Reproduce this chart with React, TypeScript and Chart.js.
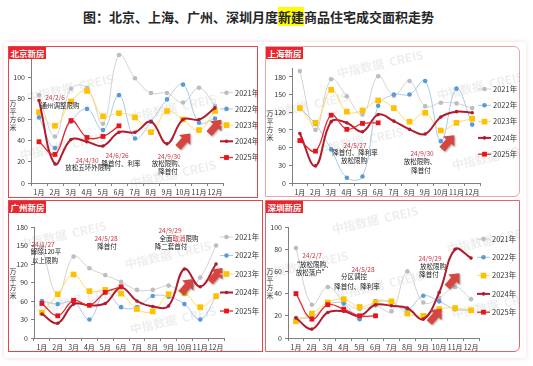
import React, { useEffect, useRef } from 'react';
import { Chart, registerables } from 'chart.js';
Chart.register(...registerables);

const FONT = '"Noto Sans CJK SC", "Noto Sans", sans-serif';
Chart.defaults.font.family = FONT;
Chart.defaults.color = '#333';

const MONTHS = ['1月', '2月', '3月', '4月', '5月', '6月', '7月', '8月', '9月', '10月', '11月', '12月'];
const YEARS = ['2021年', '2022年', '2023年', '2024年', '2025年'];

// 北京
const BJ_2021 = [83, 44, 89, 90, 56, 121, 99, 85, 85, 76, 90, 73];
const BJ_2022 = [62, 33, 58, 70, 50, 83, 42, 58, 79, 93, 57, 61];
const BJ_2023 = [67, 54, 77, 87, 63, 66, 62, 48, 68, 60, 50, 68];
const BJ_2024 = [78, 18, 41, 39, 35, 48, 48, 58, 37, 60, 60, 71];
const BJ_2025 = [39, 27, 59, 43, 44, 54];
// 上海
const SH_2021 = [190, 90, 176, 147, 116, 181, 148, 173, 130, 136, 135, 127];
const SH_2022 = [127, 100, 57, 9, 11, 131, 150, 150, 173, 71, 160, 99];
const SH_2023 = [127, 102, 158, 121, 123, 140, 127, 104, 119, 89, 102, 109];
const SH_2024 = [84, 29, 104, 102, 87, 116, 105, 91, 83, 112, 121, 119];
const SH_2025 = [72, 54, 115, 91, 101, 102];
// 广州
const GZ_2021 = [148, 70, 132, 113, 102, 91, 78, 78, 85, 75, 98, 150];
const GZ_2022 = [60, 55, 59, 30, 75, 50, 50, 68, 67, 55, 30, 67];
const GZ_2023 = [41, 71, 103, 76, 78, 72, 47, 43, 71, 73, 50, 68];
const GZ_2024 = [39, 24, 55, 53, 56, 82, 60, 51, 52, 112, 83, 120];
const GZ_2025 = [56, 36, 61, 53, 74, 83];
// 深圳
const SZ_2021 = [81, 30, 46, 33, 26, 29, 24, 60, 32, 36, 46, 35];
const SZ_2022 = [18, 19, 30, 31, 17, 33, 32, 26, 38, 33, 26, 25];
const SZ_2023 = [15, 22, 32, 35, 28, 32, 33, 22, 20, 26, 27, 25];
const SZ_2024 = [18, 8, 23, 24, 20, 30, 29, 27, 17, 41, 80, 72];
const SZ_2025 = [40, 17, 30, 26, 20, 20];

const RED_T = '#c8343f';
const BLK_T = '#222';

// annotations: [monthIndex, value, [[text,color],...]]
const BJ_NOTES: [number, number, [string, string][]][] = [
  [1.0, 81, [['24/2/6', RED_T]]],
  [1.31, 73, [['通州调整限购', BLK_T]]],
  [3.0, 21, [['24/4/30', RED_T]]],
  [3.06, 15, [['放松五环外限购', BLK_T]]],
  [4.88, 25.5, [['24/6/26', RED_T]]],
  [5.13, 18, [['降首付、利率', BLK_T]]],
  [8.13, 24.6, [['24/9/30', RED_T]]],
  [8.06, 18, [['放松限购、', BLK_T]]],
  [8.06, 10.4, [['降首付', BLK_T]]],
];
const SH_NOTES: [number, number, [string, string][]][] = [
  [3.52, 62.7, [['24/5/27', RED_T]]],
  [3.52, 50.9, [['降首付、降利率', BLK_T]]],
  [3.46, 37.3, [['放松限购', BLK_T]]],
  [7.8, 49.2, [['24/9/30', RED_T]]],
  [7.67, 35.6, [['放松限购、', BLK_T]]],
  [7.73, 20.3, [['降首付', BLK_T]]],
];
const GZ_NOTES: [number, number, [string, string][]][] = [
  [0.07, 151, [['24/1/27', RED_T]]],
  [0.26, 139.5, [['解除120平', BLK_T]]],
  [0.19, 125, [['以上限购', BLK_T]]],
  [4.05, 162, [['24/5/28', RED_T]]],
  [4.11, 149, [['降首付', BLK_T]]],
  [8.09, 175, [['24/9/29', RED_T]]],
  [8.66, 162, [['全面', BLK_T], ['取消', '#e0242c'], ['限购', BLK_T]]],
  [8.15, 149, [['降二套首付', BLK_T]]],
];
const SZ_NOTES: [number, number, [string, string][]][] = [
  [1.01, 74, [['24/2/7', RED_T]]],
  [1.07, 65.8, [['“放松限购、', BLK_T]]],
  [1.01, 58.6, [['放松落户”', BLK_T]]],
  [4.21, 61.3, [['24/5/28', RED_T]]],
  [3.65, 55, [['分区调控', BLK_T]]],
  [3.83, 46.8, [['降首付、降利率', BLK_T]]],
  [8.42, 72, [['24/9/29', RED_T]]],
  [8.61, 64, [['放松限购', BLK_T]]],
  [8.36, 56.8, [['降首付', BLK_T]]],
];

// arrows: [monthIndex, value]
const BJ_ARROWS: [number, number][] = [[9.06, 40], [11.0, 53]];
const SH_ARROWS: [number, number][] = [[9.46, 69]];
const GZ_ARROWS: [number, number][] = [[9.17, 84], [11.0, 102]];
const SZ_ARROWS: [number, number][] = [[8.75, 20], [9.88, 52]];

const STYLES = [
  { line: '#d2d2d2', point: '#bdbdbd', width: 1, style: 'circle', r: 2.3 },
  { line: '#a9c8e8', point: '#5b9bd5', width: 1, style: 'circle', r: 2.3 },
  { line: '#ffd966', point: '#ffc000', width: 1, style: 'rect', r: 4.0 },
  { line: '#b01c2e', point: '#b01c2e', width: 2, style: 'circle', r: 1.8 },
  { line: '#e8262c', point: '#e8141c', width: 1.3, style: 'rect', r: 3.4 },
];

function drawMarker(ctx: CanvasRenderingContext2D, style: string, color: string, r: number, x: number, y: number) {
  ctx.fillStyle = color;
  ctx.beginPath();
  if (style === 'rect') {
    const s = Math.SQRT1_2 * r;
    ctx.rect(x - s, y - s, 2 * s, 2 * s);
  } else {
    ctx.arc(x, y, r, 0, Math.PI * 2);
  }
  ctx.fill();
}

const legendPlugin = {
  id: 'customLegend',
  afterDraw(chart: any, _a: any, opts: any) {
    const { ctx, chartArea } = chart;
    const x0 = chartArea.right + opts.dx;
    ctx.save();
    chart.data.datasets.forEach((ds: any, k: number) => {
      const y = opts.y0 + k * opts.gap;
      ctx.strokeStyle = ds.borderColor;
      ctx.lineWidth = ds.borderWidth;
      ctx.beginPath();
      ctx.moveTo(x0, y);
      ctx.lineTo(x0 + 13, y);
      ctx.stroke();
      drawMarker(ctx, ds.pointStyle, ds.pointBackgroundColor, ds.pointRadius, x0 + 6.5, y);
      ctx.fillStyle = '#333';
      ctx.font = `7.5px ${FONT}`;
      ctx.textAlign = 'left';
      ctx.textBaseline = 'middle';
      ctx.fillText(ds.label, x0 + 15, y);
    });
    ctx.restore();
  },
};

const decorPlugin = {
  id: 'decor',
  beforeDatasetsDraw(chart: any, _a: any, opts: any) {
    const { ctx } = chart;
    ctx.save();
    ctx.fillStyle = 'rgba(0,0,0,0.07)';
    ctx.font = `bold 12px ${FONT}`;
    ctx.textAlign = 'center';
    ctx.textBaseline = 'middle';
    (opts.marks || []).forEach((m: [number, number]) => {
      ctx.save();
      ctx.translate(m[0], m[1]);
      ctx.rotate(-0.22);
      ctx.fillText('中指数据  CREIS', 0, 0);
      ctx.restore();
    });
    ctx.restore();
  },
  afterDatasetsDraw(chart: any, _a: any, opts: any) {
    const { ctx, chartArea, scales } = chart;
    ctx.save();
    // arrows
    (opts.arrows || []).forEach((a: [number, number]) => {
      const cx = scales.x.getPixelForValue(a[0]);
      const cy = scales.y.getPixelForValue(a[1]);
      ctx.save();
      ctx.translate(cx, cy);
      ctx.rotate(-0.85);
      ctx.shadowColor = 'rgba(0,0,0,0.35)';
      ctx.shadowBlur = 2;
      ctx.shadowOffsetX = 1;
      ctx.shadowOffsetY = 1;
      ctx.fillStyle = '#d6453f';
      ctx.beginPath();
      ctx.moveTo(-9, -3.5);
      ctx.lineTo(1, -3.5);
      ctx.lineTo(1, -7.5);
      ctx.lineTo(9.5, 0);
      ctx.lineTo(1, 7.5);
      ctx.lineTo(1, 3.5);
      ctx.lineTo(-9, 3.5);
      ctx.closePath();
      ctx.fill();
      ctx.restore();
    });
    // notes
    ctx.font = `6.5px ${FONT}`;
    ctx.textBaseline = 'middle';
    ctx.textAlign = 'left';
    (opts.notes || []).forEach((n: [number, number, [string, string][]]) => {
      const cx = scales.x.getPixelForValue(n[0]);
      const cy = scales.y.getPixelForValue(n[1]);
      const total = n[2].reduce((s, p) => s + ctx.measureText(p[0]).width, 0);
      let x = cx - total / 2;
      n[2].forEach((p) => {
        ctx.fillStyle = p[1];
        ctx.fillText(p[0], x, cy);
        x += ctx.measureText(p[0]).width;
      });
    });
    // y title vertical
    ctx.fillStyle = '#333';
    ctx.font = `7px ${FONT}`;
    ctx.textAlign = 'center';
    const chars = '万平方米'.split('');
    const tx = chartArea.left + opts.titleDx;
    chars.forEach((c, k) => {
      ctx.fillText(c, tx, opts.titleCy + (k - 1.5) * 8);
    });
    ctx.restore();
  },
};

type PanelCfg = {
  name: string;
  box: { x: number; y: number; w: number; h: number };
  pad: { top: number; right: number };
  yW: number;
  xH: number;
  max: number;
  step: number;
  labelMax: number;
  series: number[][];
  notes: [number, number, [string, string][]][];
  arrows: [number, number][];
  legend: { dx: number; y0: number; gap: number };
  titleDx: number;
  titleCy: number;
  border: string;
  radius?: string;
  marks: [number, number][];
};

const PANELS: PanelCfg[] = [
  {
    name: '北京新房', box: { x: 8, y: 46, w: 250, h: 152 }, pad: { top: 10, right: 35 }, yW: 23, xH: 15,
    max: 120, step: 20, labelMax: 100, series: [BJ_2021, BJ_2022, BJ_2023, BJ_2024, BJ_2025],
    notes: BJ_NOTES, arrows: BJ_ARROWS, legend: { dx: -3, y0: 46.7, gap: 16.2 }, titleDx: -18, titleCy: 69,
    border: '#e5454a', marks: [[62, 42], [165, 62], [55, 100], [165, 128]],
  },
  {
    name: '上海新房', box: { x: 265, y: 46, w: 255, h: 151 }, pad: { top: 22, right: 40 }, yW: 27, xH: 14,
    max: 195, step: 30, labelMax: 180, series: [SH_2021, SH_2022, SH_2023, SH_2024, SH_2025],
    notes: SH_NOTES, arrows: SH_ARROWS, legend: { dx: -2, y0: 43, gap: 16.3 }, titleDx: -22, titleCy: 79,
    border: '#e9a3aa', radius: '0 6px 6px 0', marks: [[115, 18], [40, 60], [95, 95], [215, 40], [230, 110]],
  },
  {
    name: '广州新房', box: { x: 8, y: 200, w: 255, h: 152 }, pad: { top: 27, right: 39 }, yW: 26, xH: 14,
    max: 180, step: 30, labelMax: 180, series: [GZ_2021, GZ_2022, GZ_2023, GZ_2024, GZ_2025],
    notes: GZ_NOTES, arrows: GZ_ARROWS, legend: { dx: -4, y0: 37, gap: 18.5 }, titleDx: -21, titleCy: 83,
    border: '#e5454a', marks: [[55, 35], [160, 55], [70, 100], [165, 120]],
  },
  {
    name: '深圳新房', box: { x: 265, y: 200, w: 255, h: 152 }, pad: { top: 27, right: 41 }, yW: 23, xH: 14,
    max: 100, step: 20, labelMax: 100, series: [SZ_2021, SZ_2022, SZ_2023, SZ_2024, SZ_2025],
    notes: SZ_NOTES, arrows: SZ_ARROWS, legend: { dx: -2, y0: 39, gap: 18.3 }, titleDx: -18, titleCy: 83,
    border: '#e2656c', radius: '0 0 6px 0', marks: [[110, 20], [40, 65], [115, 85], [225, 40], [230, 105]],
  },
];

function Panel({ cfg }: { cfg: PanelCfg }) {
  const ref = useRef<HTMLCanvasElement>(null);
  useEffect(() => {
    const datasets = cfg.series.map((data, k) => {
      const s = STYLES[k];
      return {
        label: YEARS[k],
        data,
        borderColor: s.line,
        backgroundColor: s.point,
        pointBackgroundColor: s.point,
        pointBorderColor: s.point,
        pointBorderWidth: 0,
        pointStyle: s.style,
        pointRadius: s.r,
        borderWidth: s.width,
        tension: 0.4,
        fill: false,
        clip: false as any,
        order: 4 - k,
      };
    });
    const chart = new Chart(ref.current!, {
      type: 'line',
      data: { labels: MONTHS, datasets: datasets as any },
      options: {
        responsive: false,
        maintainAspectRatio: false,
        animation: false,
        events: [],
        layout: { padding: { top: cfg.pad.top, right: cfg.pad.right, left: 0, bottom: 0 } },
        scales: {
          x: {
            type: 'category',
            offset: true,
            grid: { display: true, drawOnChartArea: false, drawTicks: true, tickLength: 3, offset: true, color: '#7f7f7f' },
            border: { display: true, color: '#7f7f7f', width: 1 },
            ticks: { font: { size: 7 }, color: '#333', padding: 2, maxRotation: 0, autoSkip: false },
            afterFit: (s: any) => { s.height = cfg.xH; },
          },
          y: {
            min: 0,
            max: cfg.max,
            grid: { display: true, drawOnChartArea: false, drawTicks: true, tickLength: 3, color: '#7f7f7f' },
            border: { display: true, color: '#7f7f7f', width: 1 },
            ticks: {
              stepSize: cfg.step,
              includeBounds: false,
              font: { size: 7 },
              color: '#333',
              padding: 3,
              callback: (v: any) => (Number(v) > cfg.labelMax ? '' : String(v)),
            },
            afterFit: (s: any) => { s.width = cfg.yW; },
          },
        } as any,
        plugins: {
          legend: { display: false },
          tooltip: { enabled: false },
          customLegend: cfg.legend,
          decor: { notes: cfg.notes, arrows: cfg.arrows, titleDx: cfg.titleDx, titleCy: cfg.titleCy, marks: cfg.marks },
        } as any,
      },
      plugins: [legendPlugin, decorPlugin],
    });
    return () => chart.destroy();
  }, [cfg]);
  const { x, y, w, h } = cfg.box;
  return (
    <>
      <div style={{ position: 'absolute', left: x, top: y, width: w, height: h, boxSizing: 'border-box', border: `1px solid ${cfg.border}`, borderRadius: cfg.radius || 0, background: '#fff' }} />
      <canvas ref={ref} width={w} height={h} style={{ position: 'absolute', left: x, top: y, width: w, height: h }} />
      <div style={{ position: 'absolute', left: x + 1, top: y + 1, width: 37, height: 12, background: '#e8262c', color: '#fff', fontFamily: FONT, fontWeight: 700, fontSize: 8.5, lineHeight: '12px', textAlign: 'center' }}>{cfg.name}</div>
    </>
  );
}

export default function App() {
  return (
    <div style={{ position: 'absolute', left: 0, top: 0, width: 533, height: 366, background: '#fff', overflow: 'hidden' }}>
      <div style={{ position: 'absolute', left: 0, top: 8, width: 517, textAlign: 'center', fontFamily: FONT, fontWeight: 700, fontSize: 13, lineHeight: '18px', color: '#262626' }}>
        图：北京、上海、广州、深圳月度<span style={{ background: '#ffff00' }}>新建</span>商品住宅成交面积走势
      </div>
      <div style={{ position: 'absolute', left: 4, top: 42, width: 522, height: 316, boxShadow: '0 0 4px rgba(235,160,160,0.45)', borderRadius: 4 }} />
      {PANELS.map((p) => (
        <Panel key={p.name} cfg={p} />
      ))}
    </div>
  );
}
